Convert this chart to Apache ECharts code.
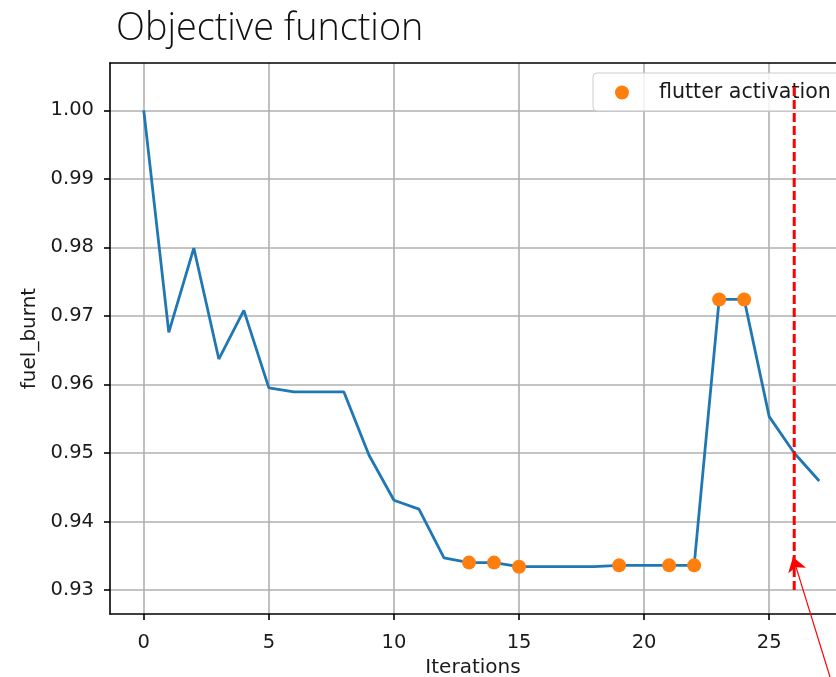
<!DOCTYPE html>
<html>
<head>
<meta charset="utf-8">
<title>Objective function</title>
<script src="https://cdn.jsdelivr.net/npm/echarts@6/dist/echarts.min.js"></script>
<style>
  html, body { margin: 0; padding: 0; background: #ffffff; }
  #chart { width: 836px; height: 677px; }
</style>
</head>
<body>
<div id="chart"></div>
<script>
// Optimisation history: fuel burnt per iteration
const iterations = [0, 1, 2, 3, 4, 5, 6, 7, 8, 9, 10, 11, 12, 13, 14, 15, 16, 17, 18, 19, 20, 21, 22, 23, 24, 25, 26, 27];
const fuelBurnt = [1.0000, 0.9676, 0.9799, 0.9637, 0.9708, 0.9595, 0.9589, 0.9589, 0.9589, 0.9497,
                   0.9431, 0.9418, 0.9347, 0.9340, 0.9340, 0.9334, 0.9334, 0.9334, 0.9334, 0.9336,
                   0.9336, 0.9336, 0.9336, 0.9724, 0.9724, 0.9553, 0.9500, 0.9459];

// Iterations where the flutter constraint became active
const flutterIterations = [13, 14, 15, 19, 21, 22, 23, 24];

// Vertical dashed marker and its vertical extent
const markerIteration = 26;
const markerRange = [0.930, 1.0036];

// Arrow pointing at the bottom of the dashed marker (tail, head)
const arrowTail = [27.72, 0.9139];
const arrowHead = [25.95, 0.9348];

// Axis ticks and visible ranges
const xTicks = [0, 5, 10, 15, 20, 25];
const yTicks = [0.93, 0.94, 0.95, 0.96, 0.97, 0.98, 0.99, 1.00];
const xRange = [-1.35, 27.67];
const yRange = [0.9265, 1.0069];

const lineData = iterations.map((it, i) => [it, fuelBurnt[i]]);
const flutterData = flutterIterations.map(it => [it, fuelBurnt[iterations.indexOf(it)]]);
const markerData = markerRange.map(v => [markerIteration, v]);

const textColor = '#1a1a1a';
const tickFont = 'DejaVu Sans';
const spine = { color: '#000000', width: 1.6 };
const gridLine = { color: '#b0b0b0', width: 1.6 };

const chart = echarts.init(document.getElementById('chart'), null, { renderer: 'canvas' });

chart.setOption({
  animation: false,
  backgroundColor: '#ffffff',
  title: {
    text: 'Objective function',
    left: 111,
    top: 5,
    textStyle: {
      fontFamily: 'Open Sans',
      fontWeight: 300,
      fontSize: 37.8,
      color: '#111111'
    }
  },
  legend: {
    data: ['flutter activation'],
    left: 593,
    top: 73,
    orient: 'horizontal',
    padding: [9, 30, 8, 22],
    itemWidth: 14,
    itemHeight: 14,
    icon: 'circle',
    backgroundColor: 'rgba(255,255,255,0.82)',
    borderColor: '#cccccc',
    borderWidth: 1,
    borderRadius: 4,
    textStyle: {
      fontFamily: tickFont,
      fontSize: 20.6,
      color: textColor,
      padding: [0, 0, 0, 25]
    }
  },
  grid: {
    left: 110,
    top: 63,
    right: 0,
    bottom: 63,
    outerBoundsMode: 'none',
    containLabel: false,
    show: false
  },
  xAxis: [
    {
      type: 'value',
      min: xRange[0],
      max: xRange[1],
      name: 'Iterations',
      nameLocation: 'middle',
      nameGap: 44,
      nameTextStyle: { fontFamily: tickFont, fontSize: 20, color: textColor },
      axisLine: { show: true, onZero: false, lineStyle: spine },
      axisTick: { show: true, inside: false, length: 6, customValues: xTicks, lineStyle: spine },
      axisLabel: { customValues: xTicks, margin: 19, fontFamily: tickFont, fontSize: 19.5, color: textColor },
      splitLine: { show: true, lineStyle: gridLine }
    },
    {
      // top spine of the plotting frame
      type: 'value',
      position: 'top',
      min: xRange[0],
      max: xRange[1],
      axisLine: { show: true, onZero: false, lineStyle: spine },
      axisTick: { show: false },
      axisLabel: { show: false },
      splitLine: { show: false }
    }
  ],
  yAxis: {
    type: 'value',
    min: yRange[0],
    max: yRange[1],
    name: 'fuel_burnt',
    nameLocation: 'middle',
    nameGap: 70,
    nameTextStyle: { fontFamily: tickFont, fontSize: 20, color: textColor },
    axisLine: { show: true, onZero: false, lineStyle: spine },
    axisTick: { show: true, inside: false, length: 6, customValues: yTicks, lineStyle: spine },
    axisLabel: {
      customValues: yTicks,
      margin: 16,
      fontFamily: tickFont,
      fontSize: 19.5,
      color: textColor,
      formatter: v => v.toFixed(2)
    },
    splitLine: { show: true, lineStyle: gridLine }
  },
  series: [
    {
      name: 'fuel_burnt',
      type: 'line',
      data: lineData,
      showSymbol: false,
      symbol: 'none',
      lineStyle: { color: '#1f77b4', width: 2.8 },
      z: 3
    },
    {
      name: 'flutter activation',
      type: 'scatter',
      data: flutterData,
      symbol: 'circle',
      symbolSize: 14,
      itemStyle: { color: '#ff7f0e', opacity: 1 },
      z: 4
    },
    {
      name: 'marker',
      type: 'line',
      data: markerData,
      showSymbol: false,
      symbol: 'none',
      lineStyle: { color: '#ff0000', width: 3, type: [9, 4] },
      z: 5
    },
    {
      name: 'arrow',
      type: 'lines',
      coordinateSystem: 'cartesian2d',
      clip: false,
      silent: true,
      z: 6,
      symbol: ['none', 'arrow'],
      symbolSize: 14,
      lineStyle: { color: '#ff0000', width: 1.2, type: 'solid', opacity: 1, curveness: 0 },
      data: [{ coords: [arrowTail, arrowHead] }]
    }
  ]
});
</script>
</body>
</html>
